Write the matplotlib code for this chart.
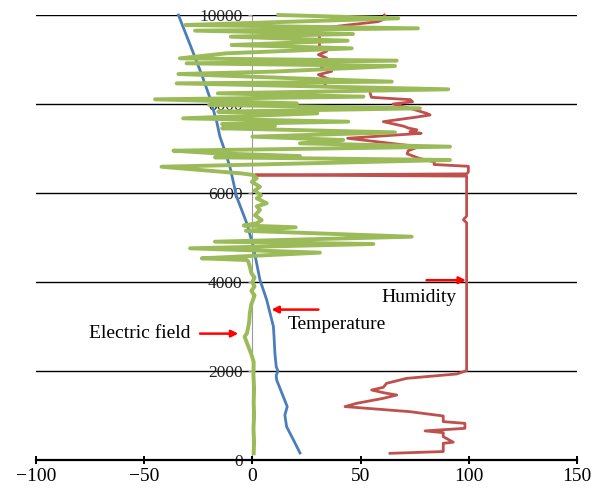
import matplotlib
matplotlib.use("Agg")
import matplotlib.pyplot as plt

# ---------------- data ----------------
# Temperature (deg C) vs altitude (m)
temp_alt = [157, 400, 750, 1010, 1200, 1420, 1800, 1900, 2000, 2100, 2400, 2770, 3000,
            3600, 4045, 4800, 5320, 5917, 6592, 7041, 7265, 7603, 8135, 8658, 9333, 10000]
temp_val = [22, 19.5, 15.8, 15, 16.1, 14.3, 11.2, 11, 11.8, 11, 10.4, 10, 9.7,
            6.6, 3.5, 0.4, -2.6, -7.3, -10.4, -13.4, -15, -16.5, -19.6, -23.4, -28.8, -34.2]

# Humidity (%) vs altitude (m)
hum_alt = [150, 190, 375, 400, 524, 614, 654, 712, 824, 862, 989, 1086, 1200, 1274, 1386,
           1460, 1513, 1573, 1633, 1723, 1835, 1933, 2007, 5330, 5400, 5480, 6380, 6404,
           6430, 6470, 6600, 6640, 6700, 6780, 6880, 6950, 7041, 7230, 7341, 7380, 7420,
           7460, 7500, 7603, 7700, 7753, 7790, 7903, 8000, 8050, 8097, 8150, 8321, 8360,
           8390, 8470, 8547, 8659, 8734, 8809, 8959, 9034, 9108, 9184, 9300, 9500, 9700,
           9780, 9850, 9930, 10000]
hum_val = [63.6, 88.2, 88.2, 92.8, 88.2, 88.2, 79.8, 98.2, 98.2, 88.2, 88.2, 72.8, 42.8, 48.2, 60.5,
           66.7, 60.5, 55.1, 60.5, 62, 71.3, 94.4, 99, 99, 97.5, 99, 99, 1.2,
           99, 99.8, 99.8, 84, 84, 77, 71.5, 72, 77, 44, 78, 72.8, 76,
           72, 70, 60.5, 75, 82.1, 80.5, 72.8, 65, 74, 73, 55, 54, 49.7,
           33, 34, 35.9, 30.5, 36.6, 32, 31.2, 34.3, 30.5, 34.3, 31, 31, 31,
           45, 58, 62, 61]

# Electric field vs altitude (m)
ef_alt = [150, 400, 700, 1000, 1300, 1600, 1900, 2200, 2350, 2770, 2850, 3100, 3300, 3500,
          3600, 3700, 3800, 3900, 4000, 4100, 4200, 4350, 4460, 4494, 4532, 4660, 4757,
          4854, 4906, 5018, 5150, 5230, 5270, 5320, 5390, 5500, 5620, 5700, 5770, 5880,
          5950, 6050, 6140, 6250, 6330, 6404, 6440, 6590, 6742, 6802, 6831, 6892, 6951,
          7041, 7116, 7191, 7266, 7363, 7453, 7506, 7551, 7603, 7678, 7790, 7828, 7903,
          7978, 8015, 8105, 8165, 8240, 8330, 8464, 8502, 8577, 8674, 8727, 8854, 8914,
          8974, 9026, 9139, 9251, 9326, 9423, 9513, 9573, 9648, 9700, 9775, 9925, 10000]
ef_val = [0.6, 0.8, 0.5, 0.8, 0.6, 0.8, 0.5, 0.6, -0.3, -3.6, -2.5, -1.5, -1.2, -0.5,
          0.3, 1.0, -0.5, 1.0, 0.0, 1.0, -0.5, -1.2, -1.9, -2.6, -23.4, 31.2, -28.8,
          55.9, -17.3, 73.6, -3, 20, -4, 2, 4.3, 1.2, 3.5, 2, 6.6, 2,
          4, 1, 3.5, -0.3, 2, 0.4, -5, -42, 91.3, -17.3, 22, -17, -36.5,
          91.3, 22, 42, 0, 65.9, -14, 10.4, -14, 44.3, -32, 30, -15.8, 77.4,
          -20, 20.5, -45, 51.3, -16, 90.5, -35, 64.4, 20, -34.2, 9.6, 65.9, -30.4,
          66.7, -33.5, -12, 45.9, -9.6, 44, -10, 46.5, -26.5, 76.5, -31, 67.4, 12]

x_ticks = [-100, -50, 0, 50, 100, 150]
x_labels = ["\u2212100", "\u221250", "0", "50", "100", "150"]
y_ticks = [0, 2000, 4000, 6000, 8000, 10000]
y_labels = ["0", "2000", "4000", "6000", "8000", "10000"]

# ---------------- figure ----------------
serif = ["Liberation Serif", "DejaVu Serif"]
fig = plt.figure(figsize=(6.01, 4.94), dpi=100)
ax = fig.add_axes([36 / 601, 34 / 494, 541 / 601, 445 / 494])
ax.set_xlim(-100, 150)
ax.set_ylim(0, 10000)

for yv in y_ticks[1:]:
    ax.axhline(yv, color="black", lw=1.0, zorder=1)

ax.plot(hum_val, hum_alt, color="#C0504D", lw=2.0, zorder=2, solid_joinstyle="round", clip_on=False)
ax.plot(temp_val, temp_alt, color="#4A7EBB", lw=2.0, zorder=2, solid_joinstyle="round", clip_on=False)
ax.plot(ef_val, ef_alt, color="#9BBB59", lw=2.8, zorder=3, solid_joinstyle="round", clip_on=False)

for s in ["top", "right"]:
    ax.spines[s].set_visible(False)
ax.spines["left"].set_position(("data", 0))
ax.spines["left"].set_color("#999999")
ax.spines["left"].set_linewidth(0.8)
ax.spines["left"].set_zorder(0.5)
ax.spines["bottom"].set_color("black")
ax.spines["bottom"].set_linewidth(1.6)

ax.set_xticks(x_ticks)
ax.set_xticklabels(x_labels, fontfamily=serif, fontsize=14)
ax.set_yticks(y_ticks)
ax.set_yticklabels(y_labels, fontfamily=serif, fontsize=12.5, color="#222222")
ax.tick_params(axis="x", direction="inout", length=6, width=1.4, pad=3)
ax.tick_params(axis="y", direction="out", length=3, width=0.8, pad=4, color="#999999")

arrow = dict(arrowstyle="-|>", color="red", lw=1.8, mutation_scale=10, shrinkA=0, shrinkB=0)
ax.annotate("", xy=(98.7, 4040), xytext=(80.5, 4040), arrowprops=arrow)
ax.text(77, 3650, "Humidity", fontfamily=serif, fontsize=14, ha="center", va="center")
ax.annotate("", xy=(8.8, 3380), xytext=(30.5, 3380), arrowprops=arrow)
ax.text(39, 3050, "Temperature", fontfamily=serif, fontsize=14, ha="center", va="center")
ax.annotate("", xy=(-6.5, 2840), xytext=(-24.2, 2840), arrowprops=arrow)
ax.text(-52, 2840, "Electric field", fontfamily=serif, fontsize=14, ha="center", va="center")

fig.savefig("out.png", dpi=100)
